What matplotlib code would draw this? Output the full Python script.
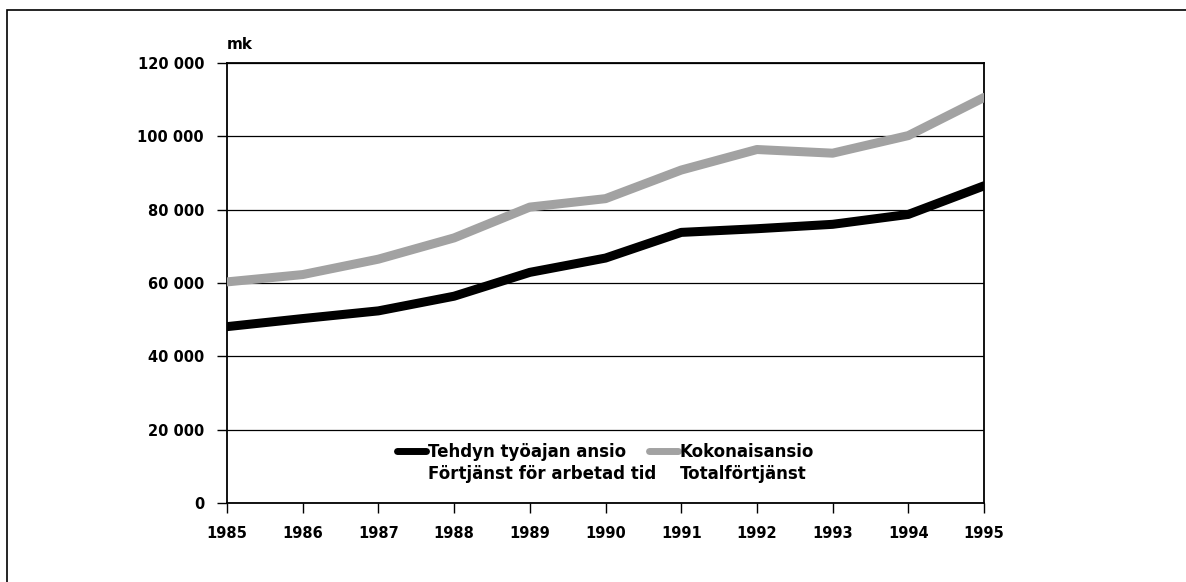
import numpy as np
import matplotlib.pyplot as plt
from matplotlib.lines import Line2D
from matplotlib.legend import Legend
from matplotlib.patches import Rectangle

#--------------- Data ---------------
years = [1985, 1986, 1987, 1988, 1989, 1990, 1991, 1992, 1993, 1994, 1995]
worked_time_pay = [48100, 50300, 52400, 56400, 62900, 66800, 73800, 74800, 76000, 78700, 86500]
total_pay = [60300, 62300, 66500, 72300, 80700, 83000, 90800, 96400, 95400, 100200, 110600]
labels_worked = ['Tehdyn työajan ansio', 'Förtjänst för arbetad tid']
labels_total = ['Kokonaisansio', 'Totalförtjänst']
y_ticks = [0, 20000, 40000, 60000, 80000, 100000, 120000]

BLACK = 'black'
GREY = '#a2a2a2'

plt.rcParams['font.family'] = ['DejaVu Sans']
plt.rcParams['font.weight'] = 'bold'

fig = plt.figure(figsize=(11.86, 5.82), dpi=100)
ax = fig.add_axes([0.1914, 0.1357, 0.6383, 0.7561])

# frame around the whole figure (cut off at right and bottom in the scan)
fig.add_artist(Rectangle((7 / 1186, -0.1), 1.2, 1 - 10 / 582 + 0.1, transform=fig.transFigure,
                         fill=False, edgecolor='black', lw=1.2))

ax.plot(years, total_pay, color=GREY, lw=6.5, solid_capstyle='round', zorder=3)
ax.plot(years, worked_time_pay, color=BLACK, lw=6.5, solid_capstyle='round', zorder=4)

ax.set_xlim(1985, 1995)
ax.set_ylim(0, 120000)
ax.set_xticks(years)
ax.set_yticks(y_ticks)
ax.set_yticklabels([f'{v:,}'.replace(',', ' ') for v in y_ticks])
ax.grid(axis='y', color='black', lw=0.9)
ax.set_axisbelow(True)
for s in ax.spines.values():
    s.set_linewidth(1.3)
ax.tick_params(axis='both', direction='out', length=7.5, width=1, labelsize=10.5, pad=9)

ax.text(0, 1.025, 'mk', transform=ax.transAxes, fontsize=11, va='bottom', ha='left')

# legend: one block per series, second text line without a handle
def series_legend(color, labels, x):
    blank = Line2D([], [], color='none')
    h = Line2D([], [], color=color, lw=5, solid_capstyle='round')
    leg = Legend(ax, [h, blank], labels, frameon=False, fontsize=12, loc='upper left',
                 bbox_to_anchor=(x, 0.136), borderpad=0, borderaxespad=0,
                 handlelength=1.75, handletextpad=0.1, labelspacing=0.2)
    ax.add_artist(leg)

series_legend(BLACK, labels_worked, 0.2246)
series_legend(GREY, labels_total, 0.5575)

fig.savefig('out.png', dpi=100)
